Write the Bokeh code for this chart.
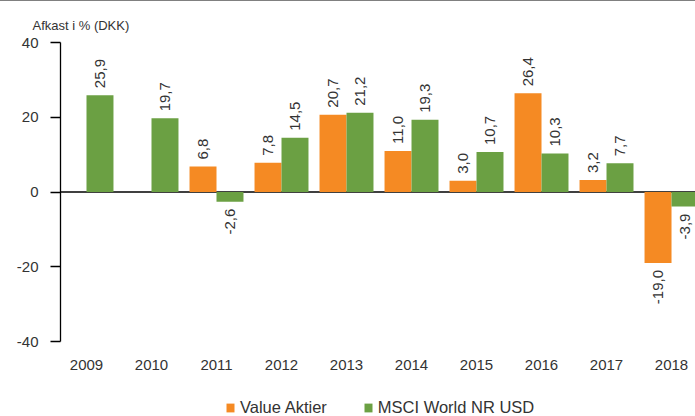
import math
from bokeh.plotting import figure
from bokeh.models import (ColumnDataSource, FixedTicker, Span, Legend, LegendItem, Div)
from bokeh.core.properties import value
from bokeh.layouts import column
from bokeh.embed import file_html
from bokeh.resources import INLINE

years = ["2009", "2010", "2011", "2012", "2013", "2014", "2015", "2016", "2017", "2018"]
value_aktier = [None, None, 6.8, 7.8, 20.7, 11.0, 3.0, 26.4, 3.2, -19.0]
msci_world = [25.9, 19.7, -2.6, 14.5, 21.2, 19.3, 10.7, 10.3, 7.7, -3.9]
y_ticks = [-40, -20, 0, 20, 40]

ORANGE = "#F58A23"
GREEN = "#6BA043"
TXT = "#333333"
FONT = "Liberation Sans"

# layout: frame spans from 41px to the bottom of the canvas; the y axis
# (bounded to -40..40) occupies the upper 299 px of it.
FIG_H = 414
TOP = 41
AXIS_PX = 299
frame_h = FIG_H - TOP
y_end = y_ticks[-1]
y_start = y_end - frame_h * (y_ticks[-1] - y_ticks[0]) / AXIS_PX

p = figure(width=695, height=FIG_H, output_backend="svg", toolbar_location=None,
           x_range=(-0.4, 9.369), y_range=(y_start, y_end),
           x_axis_location=None,
           min_border_left=60, min_border_right=0, min_border_top=TOP, min_border_bottom=0)
p.grid.visible = False
p.outline_line_color = None
p.background_fill_color = "white"
p.border_fill_color = "white"

p.title.text = "Afkast i % (DKK)"
p.title.align = "left"
p.title.offset = -28
p.title.standoff = 20
p.title.text_font = FONT
p.title.text_font_size = "13px"
p.title.text_font_style = "normal"
p.title.text_color = TXT

bw = 0.415
off = bw / 2

xo = [i - off for i, v in enumerate(value_aktier) if v is not None]
yo = [v for v in value_aktier if v is not None]
xg = [i + off for i in range(len(msci_world))]
yg = list(msci_world)

ro = p.vbar(x=xo, top=yo, bottom=0, width=bw, fill_color=ORANGE, line_color=None)
rg = p.vbar(x=xg, top=yg, bottom=0, width=bw, fill_color=GREEN, line_color=None)

zero = Span(location=0, dimension="width", line_color="black", line_width=1.3, level="underlay")
p.add_layout(zero)

lx = xo + xg
ly = yo + yg
ltxt = [("%.1f" % v).replace(".", ",") for v in ly]
lalign = ["left" if v >= 0 else "right" for v in ly]
loff = [-7 if v >= 0 else 7 for v in ly]
src = ColumnDataSource(dict(x=lx, y=ly, t=ltxt, a=lalign, o=loff))
p.text(x="x", y="y", text="t", source=src, angle=math.pi / 2,
       text_align="a", text_baseline="middle", y_offset="o",
       text_font=value(FONT), text_font_size=value("15px"), text_color=TXT)

# category labels under the axis bottom
ysrc = ColumnDataSource(dict(x=list(range(len(years))), y=[y_ticks[0]] * len(years), t=years))
p.text(x="x", y="y", text="t", source=ysrc, text_align="center", text_baseline="middle",
       y_offset=23, text_font=value(FONT), text_font_size=value("15px"), text_color=TXT)

yax = p.yaxis[0]
yax.ticker = FixedTicker(ticks=y_ticks)
yax.major_label_overrides = {t: str(t) for t in y_ticks}
yax.bounds = (y_ticks[0], y_ticks[-1])
yax.axis_line_color = "black"
yax.axis_line_width = 1.3
yax.major_tick_line_color = "black"
yax.major_tick_line_width = 1.3
yax.major_tick_out = 10
yax.major_tick_in = 0
yax.minor_tick_line_color = None
yax.major_label_standoff = 12
yax.major_label_text_font = FONT
yax.major_label_text_font_size = "15px"
yax.major_label_text_color = TXT

legend = Legend(items=[LegendItem(label="Value Aktier", renderers=[ro]),
                       LegendItem(label="MSCI World NR USD", renderers=[rg])],
                orientation="horizontal", location=(165, -2),
                glyph_width=10, glyph_height=11,
                label_standoff=5, spacing=36,
                padding=0, margin=0, border_line_color=None, background_fill_alpha=0,
                label_text_font=FONT, label_text_font_size="16.5px", label_text_color=TXT)
p.add_layout(legend)

top_line = Div(text="", width=695, height=1, margin=0,
               styles={"background-color": "#808080"})
layout = column(top_line, p, spacing=0)

open("out.html", "w").write(file_html(layout, INLINE))
